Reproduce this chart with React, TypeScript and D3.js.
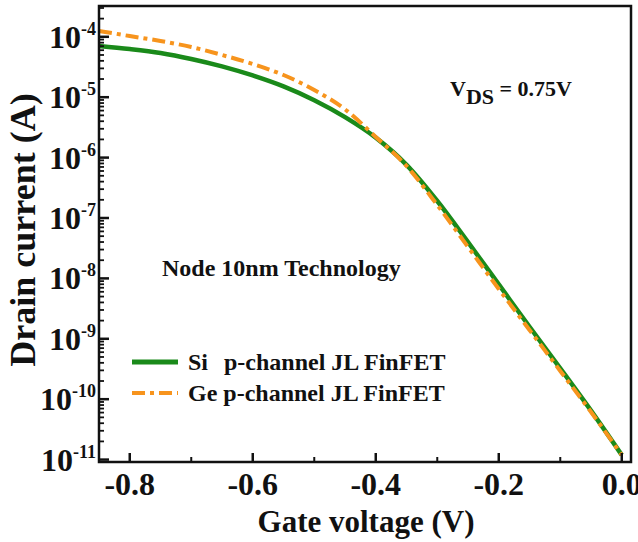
import React from 'react'
import * as d3 from 'd3'

// gate voltage (V)
const vg = [-0.85, -0.8, -0.75, -0.7, -0.65, -0.6, -0.55, -0.5, -0.45, -0.4, -0.35, -0.3, -0.25, -0.2, -0.15, -0.1, -0.05, 0.0]
// drain current (A)
const siCurrent = [7.05e-5, 6.28e-5, 5.4e-5, 4.3e-5, 3.24e-5, 2.29e-5, 1.51e-5, 8.91e-6, 4.68e-6, 2.14e-6, 7.59e-7, 1.91e-7, 3.98e-8, 7.94e-9, 1.58e-9, 3.24e-10, 6.46e-11, 1.19e-11]
const geCurrent = [1.25e-4, 1.03e-4, 8.53e-5, 6.78e-5, 5.0e-5, 3.55e-5, 2.33e-5, 1.32e-5, 6.3e-6, 2.2e-6, 7.26e-7, 1.64e-7, 3.31e-8, 6.68e-9, 1.4e-9, 2.93e-10, 6.14e-11, 1.19e-11]

const xTicks = [-0.8, -0.6, -0.4, -0.2, 0.0]
const xMinorTicks = [-0.7, -0.5, -0.3, -0.1]
const yExponents = [-4, -5, -6, -7, -8, -9, -10, -11]

const W = 638
const H = 542
const plot = { left: 99, right: 631, top: 6, bottom: 462 }
const GREEN = '#1a8a1a'
const ORANGE = '#f7941d'
const FONT = 'Liberation Serif'

export default function App() {
  const x = d3.scaleLinear().domain([-0.85, 0.015]).range([plot.left, plot.right])
  const y = d3.scaleLog().domain([Math.pow(10, -11.04), Math.pow(10, -3.49)]).range([plot.bottom, plot.top])

  const line = d3.line<[number, number]>()
    .x(d => x(d[0]))
    .y(d => y(d[1]))
    .curve(d3.curveMonotoneX)

  const siPath = line(vg.map((v, i) => [v, siCurrent[i]]))
  const gePath = line(vg.map((v, i) => [v, geCurrent[i]]))

  // log minor ticks
  const yMinor: number[] = []
  for (let e = -12; e <= -4; e++) {
    for (let m = 2; m <= 9; m++) {
      const v = m * Math.pow(10, e)
      const py = y(v)
      if (py > plot.top + 1 && py < plot.bottom - 1) yMinor.push(v)
    }
  }

  return (
    <div style={{ position: 'fixed', left: 0, top: 0, width: W, height: H, background: '#fff' }}>
      <svg width={W} height={H} style={{ display: 'block', fontFamily: FONT, fontWeight: 'bold' }}>
        <rect width={W} height={H} fill="#fff" />

        {/* curves */}
        <path d={siPath || ''} fill="none" stroke={GREEN} strokeWidth={4.5} />
        <path d={gePath || ''} fill="none" stroke={ORANGE} strokeWidth={4} strokeDasharray="13,5,4,5" />

        {/* frame */}
        <rect x={plot.left} y={plot.top} width={plot.right - plot.left} height={plot.bottom - plot.top}
          fill="none" stroke="#111" strokeWidth={2.5} />

        {/* y ticks */}
        {yExponents.map(e => (
          <line key={'ym' + e} x1={plot.left} x2={plot.left + 10} y1={y(Math.pow(10, e))} y2={y(Math.pow(10, e))}
            stroke="#111" strokeWidth={2.5} />
        ))}
        {yMinor.map((v, i) => (
          <line key={'yn' + i} x1={plot.left} x2={plot.left + 5} y1={y(v)} y2={y(v)} stroke="#111" strokeWidth={1.8} />
        ))}
        {yExponents.map(e => (
          <text key={'yl' + e} x={96} y={y(Math.pow(10, e)) + 11} textAnchor="end" fontSize={32} fill="#111">
            10<tspan fontSize={18} dy={-13}>{String(e)}</tspan>
          </text>
        ))}

        {/* x ticks */}
        {xTicks.map(t => (
          <line key={'xm' + t} x1={x(t)} x2={x(t)} y1={plot.bottom} y2={plot.bottom - 9} stroke="#111" strokeWidth={2.5} />
        ))}
        {xMinorTicks.map(t => (
          <line key={'xn' + t} x1={x(t)} x2={x(t)} y1={plot.bottom} y2={plot.bottom - 5} stroke="#111" strokeWidth={2} />
        ))}
        {xTicks.map(t => (
          <text key={'xl' + t} x={x(t)} y={495} textAnchor="middle" fontSize={32} fill="#111">
            {d3.format('.1f')(t).replace('−', '-')}
          </text>
        ))}

        {/* axis titles */}
        <text x={366} y={532} textAnchor="middle" fontSize={31} fill="#111">Gate voltage (V)</text>
        <text transform="translate(35,230) rotate(-90)" textAnchor="middle" fontSize={36} fill="#111">Drain current (A)</text>

        {/* annotations */}
        <text x={450} y={96} fontSize={22} fill="#111">
          V<tspan dy={8}>DS</tspan><tspan dy={-8}> = 0.75V</tspan>
        </text>
        <text x={162} y={276} fontSize={24} fill="#111">Node 10nm Technology</text>

        {/* legend */}
        <line x1={132} x2={178} y1={362} y2={362} stroke={GREEN} strokeWidth={5} />
        <text x={188} y={370} fontSize={24} fill="#111">Si</text>
        <text x={224} y={370} fontSize={24} fill="#111">p-channel JL FinFET</text>
        <line x1={132} x2={178} y1={393} y2={393} stroke={ORANGE} strokeWidth={4} strokeDasharray="13,5,4,5" />
        <text x={188} y={401} fontSize={24} fill="#111">Ge p-channel JL FinFET</text>
      </svg>
    </div>
  )
}
